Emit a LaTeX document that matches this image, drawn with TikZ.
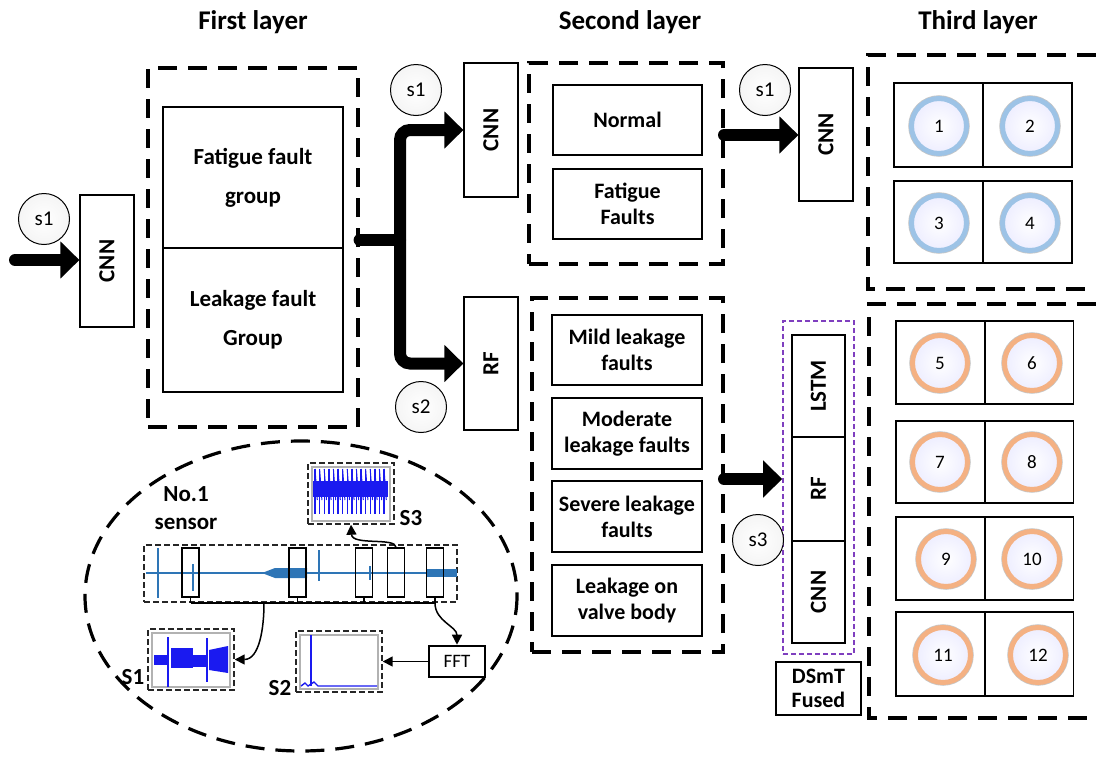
\documentclass[tikz,border=0pt]{standalone}
\usepackage{fontspec}
\usepackage{graphicx}
\setmainfont{Carlito}
\usetikzlibrary{arrows.meta,calc,shapes.geometric}
\definecolor{ringblue}{HTML}{9DC3E6}
\definecolor{ringorange}{HTML}{F4B183}
\definecolor{sigblue}{HTML}{2E75B6}
\definecolor{plotblue}{HTML}{1A1AF0}
\definecolor{dspurple}{HTML}{7F3FBF}
\newcommand{\vtext}[1]{\rotatebox{90}{\fontsize{23}{23}\selectfont #1}}
\tikzset{
  box/.style={draw, line width=1.2pt, inner sep=0pt, align=center, font=\bfseries\fontsize{22}{26}\selectfont},
  grp/.style={draw, line width=3.2pt, dash pattern=on 19pt off 11pt},
  sc/.style={circle, draw, line width=1pt, inner color=white, outer color=black!4, minimum size=51pt, inner sep=0pt, font=\fontsize{21}{21}\selectfont},
  big/.style={line width=12pt, line cap=round, -{Triangle[length=19pt,width=36pt]}},
  ttl/.style={font=\bfseries\fontsize{27}{30}\selectfont},
  cell/.style={draw, line width=1.2pt, inner sep=0pt},
  ringc/.style={circle, draw=#1, line width=5pt, minimum size=55pt, inner sep=0pt,
     preaction={draw=gray!45, line width=6.5pt}, inner color=white, outer color=blue!7,
     font=\fontsize{19}{19}\selectfont},
  smallbox/.style={draw=black!85, line width=1.4pt, dash pattern=on 6pt off 3pt, inner sep=0pt},
  win/.style={draw, line width=1.4pt, inner sep=0pt, minimum width=17pt, minimum height=49pt},
  sarr/.style={line width=1.5pt, -{Triangle[length=10pt,width=10pt]}},
  lbl/.style={font=\bfseries\fontsize{23}{28}\selectfont, align=center},
}
\begin{document}
\begin{tikzpicture}[x=1pt,y=-1pt]
\useasboundingbox (0,0) rectangle (1096,761);
% titles
\node[ttl] (t1) at (253,22) {First layer};
\node[ttl] (t2) at (630,22) {Second layer};
\node[ttl] (t3) at (978,22) {Third layer};

% ---------- first layer ----------
\node[sc] (s1a) at (44,219) {s1};
\node[box, minimum width=54pt, minimum height=132pt] (cnn1) at (107,261) {\vtext{CNN}};
\coordinate (in1) at (15,260);
\draw[big] (in1) -- (in1 -| cnn1.west);

\node[grp, minimum width=210pt, minimum height=359pt] (g1) at (253,247.5) {};
\node[box, minimum width=180pt, minimum height=141pt, font=\bfseries\fontsize{23}{39}\selectfont] (ff) at (253,177.5) {Fatigue fault\\group};
\node[box, minimum width=180pt, minimum height=144pt, font=\bfseries\fontsize{23}{39}\selectfont] (lf) at (253,320) {Leakage fault\\Group};

% ---------- second layer ----------
\node[box, minimum width=54pt, minimum height=134pt] (cnn2) at (491,130) {\vtext{CNN}};
\node[box, minimum width=54pt, minimum height=133pt] (rf2) at (491,363.5) {\vtext{RF}};
\node[sc] (s1b) at (416,90) {s1};
\node[sc] (s2b) at (421,407) {s2};

\coordinate (j) at (400,240);
\draw[line width=12pt, line cap=round] (j -| g1.east) -- (j);
\draw[big, rounded corners=10pt] (j) |- (cnn2.west);
\draw[big, rounded corners=10pt] (j) |- (rf2.west);

\node[grp, minimum width=194pt, minimum height=201pt] (g2a) at (626,163.5) {};
\node[box, minimum width=149pt, minimum height=70pt] (nor) at (627.5,120) {Normal};
\node[box, minimum width=149pt, minimum height=70pt] (fat) at (627.5,204) {Fatigue\\Faults};

\node[grp, minimum width=191pt, minimum height=354pt] (g2b) at (627.5,475) {};
\node[box, minimum width=150pt, minimum height=70pt] (mild) at (627,350) {Mild leakage\\faults};
\node[box, minimum width=150pt, minimum height=71pt] (mod) at (627,433.5) {Moderate\\leakage faults};
\node[box, minimum width=150pt, minimum height=71pt] (sev) at (627,516.5) {Severe leakage\\faults};
\node[box, minimum width=150pt, minimum height=71pt] (valve) at (627,600.5) {Leakage on\\valve body};

% ---------- third layer ----------
\node[box, minimum width=54pt, minimum height=133pt] (cnn3) at (826,134.5) {\vtext{CNN}};
\node[sc] (s1c) at (765,90) {s1};
\coordinate (a2) at (724,135);
\draw[big] (a2) -- (a2 -| cnn3.west);

\draw[grp] (1096,55) -- (868,55) -- (868,289) -- (1096,289);
\node[cell, minimum width=89pt, minimum height=84pt] (c1) at (938.5,125) {};
\node[cell, minimum width=89pt, minimum height=84pt] (c2) at (1027.5,125) {};
\node[cell, minimum width=89pt, minimum height=82pt] (c3) at (938.5,222) {};
\node[cell, minimum width=89pt, minimum height=82pt] (c4) at (1027.5,222) {};
\node[ringc=ringblue] (r1) at (939,126) {1};
\node[ringc=ringblue] (r2) at (1030,126) {2};
\node[ringc=ringblue] (r3) at (939,223) {3};
\node[ringc=ringblue] (r4) at (1030,223) {4};

\draw[grp] (1096,304) -- (869,304) -- (869,718) -- (1096,718);
\foreach \n/\x/\y/\h in {5/940.5/362.5/83, 6/1029/362.5/83, 7/940.5/462/82, 8/1029/462/82,
                         9/940.5/558.5/83, 10/1029/558.5/83, 11/940.5/654/84, 12/1029/654/84}{
  \node[cell, minimum width=89pt, minimum height=\h pt] (c\n) at (\x,\y) {};
}
\node[ringc=ringorange] (r5) at (940,363) {5};
\node[ringc=ringorange] (r6) at (1032,363) {6};
\node[ringc=ringorange] (r7) at (940,462) {7};
\node[ringc=ringorange] (r8) at (1032,462) {8};
\node[ringc=ringorange] (r9) at (946,559) {9};
\node[ringc=ringorange] (r10) at (1032,559) {10};
\node[ringc=ringorange] (r11) at (943,655) {11};
\node[ringc=ringorange] (r12) at (1038,655) {12};

% DSmT fused block
\node[draw=dspurple, line width=1.6pt, dash pattern=on 5pt off 3pt, minimum width=71pt, minimum height=333pt, inner sep=0pt] (ds) at (818.5,487.5) {};
\node[box, minimum width=53pt, minimum height=102pt] (lstm) at (818.5,386) {\vtext{LSTM}};
\node[box, minimum width=53pt, minimum height=104pt] (rf3) at (818.5,489) {\vtext{RF}};
\node[box, minimum width=53pt, minimum height=102pt] (cnn4) at (818.5,592) {\vtext{CNN}};
\node[box, minimum width=85pt, minimum height=53pt, font=\bfseries\fontsize{22}{24}\selectfont] (dsmt) at (818.5,688.5) {DSmT\\Fused};
\coordinate (a3) at (724,479);
\draw[big] (a3) -- (a3 -| ds.west);
\node[sc] (s3c) at (758,540) {s3};

% ---------- sensor ellipse ----------
\draw[line width=3.2pt, dash pattern=on 19pt off 11pt] (301,596) ellipse [x radius=216, y radius=155];
\node[lbl] (no1) at (186,508) {No.1\\sensor};

% signal strip
\node[smallbox, minimum width=313pt, minimum height=57pt] (strip) at (300.5,573.5) {};
\begin{scope}[sigblue]
  \draw[line width=2.2pt] (146,573) -- (456,573);
  \draw[line width=2pt] (158,548) -- (158,598);
  \draw[line width=1.5pt] (193,564) -- (193,591);
  \fill (262,573) -- (275,568) -- (307,568) -- (307,578) -- (275,578) -- cycle;
  \draw[line width=2pt] (319,550) -- (319,581);
  \draw[line width=1.2pt] (370,566) -- (370,580);
  \fill (427,569) rectangle (457,577);
\end{scope}
\node[win] (w1) at (190.5,572.5) {};
\node[win] (w2) at (297.5,572.5) {};
\node[win] (w3) at (364,572.5) {};
\node[win] (w4) at (396,572.5) {};
\node[win] (w5) at (435,572.5) {};
\coordinate (busL) at (190.5,603);
\coordinate (busR) at (435,603);
\coordinate (bus1) at (264,603);
\draw[line width=1.5pt] (busL) -- (busR);
\draw[line width=1.5pt] (w1.south) -- (w1.south |- busL);
\draw[line width=1.5pt] (w2.south) -- (w2.south |- busL);
\draw[line width=1.5pt] (w3.south) -- (w3.south |- busL);
\draw[line width=1.5pt] (w5.south) -- (w5.south |- busL);

% S3 plot
\node[smallbox, minimum width=86pt, minimum height=61pt] (p3) at (351,493.5) {};
\draw[gray!60, line width=1.6pt, fill=white] (312,467) rectangle (390,521);
\fill[plotblue] (313,481) rectangle (388,497);
\foreach \i in {0,...,15}{
  \draw[plotblue, line width=1.4pt] ({315+\i*4.6},469) -- ({315+\i*4.6},514);
  \draw[plotblue, line width=1pt] ({315+\i*4.6},469) -- ({317.3+\i*4.6},500);
}
\node[lbl] (lS3) at (411,518) {S3};

% S1 plot
\node[smallbox, minimum width=86pt, minimum height=61pt] (p1) at (191,659.5) {};
\draw[gray!60, line width=1.6pt, fill=white] (152,633) rectangle (230,687);
\begin{scope}[plotblue]
  \fill (154,655) rectangle (168,665);
  \fill (171,648) rectangle (193,668);
  \fill (193,655) rectangle (207,667);
  \fill (209,650) -- (228,646) -- (228,673) -- (209,670) -- cycle;
  \draw[line width=1.6pt] (168,637) -- (168,687);
  \draw[line width=1.6pt] (207,638) -- (207,682);
\end{scope}
\node[lbl] (lS1) at (133,677) {S1};

% S2 plot
\node[smallbox, minimum width=86pt, minimum height=61pt] (p2) at (339,661.5) {};
\draw[gray!60, line width=1.6pt, fill=white] (300,635) rectangle (378,689);
\begin{scope}[plotblue]
  \draw[line width=1.6pt] (311,635) -- (311,686);
  \draw[line width=1.4pt] (301,686) -- (305,683) -- (308,686) -- (314,682) -- (318,686) -- (377,686);
\end{scope}
\node[lbl] (lS2) at (280,688) {S2};

% FFT
\node[draw, line width=2.6pt, minimum width=56pt, minimum height=31pt, inner sep=0pt, font=\fontsize{19}{19}\selectfont] (fft) at (457,661.5) {FFT};

% connectors in ellipse
\draw[sarr] (bus1) to[out=-90,in=0] (p1.east);
\draw[sarr] (busR) to[out=-90,in=90] (fft.north);
\draw[sarr] (fft.west) -- (p2.east);
\draw[sarr] (w4.north) .. controls (396,537) and (352,546) .. (p3.south);
\end{tikzpicture}
\end{document}
